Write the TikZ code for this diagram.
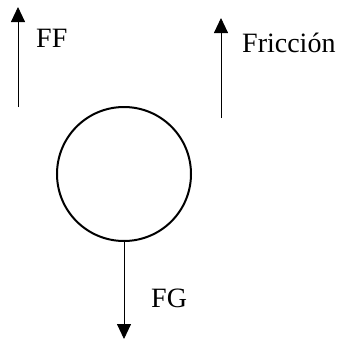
\documentclass[tikz,border=0pt]{standalone}
\usepackage{fontspec}
\setmainfont{Liberation Serif}
\usetikzlibrary{arrows.meta}
\begin{document}
\begin{tikzpicture}[x=1pt,y=-1pt,
  force/.style={line width=0.9pt,-{Triangle[length=15pt,width=14pt]}},
  lbl/.style={anchor=base west,inner sep=0pt,font=\fontsize{28}{32}\selectfont},
  body/.style={circle,draw,line width=2pt,minimum size=134pt,inner sep=0pt}]
\useasboundingbox (0,0) rectangle (340,341);
\node[body] (ball) at (124,174) {};
\coordinate (ffS) at (18,107);
\coordinate (ffE) at (18,7);
\coordinate (frS) at (221,118);
\coordinate (frE) at (221,18);
\coordinate (fgE) at (124,339);
\draw[force] (ffS) -- (ffE);
\draw[force] (frS) -- (frE);
\draw[force] (ball.south) -- (fgE);
\node[lbl] (ff) at (36,47) {FF};
\node[lbl] (fr) at (242,52) {Fricción};
\node[lbl] (fg) at (151,307) {FG};
\end{tikzpicture}
\end{document}
